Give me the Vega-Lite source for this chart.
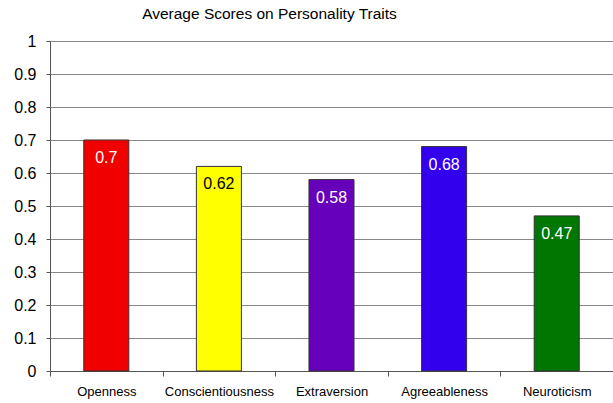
{
  "$schema": "https://vega.github.io/schema/vega-lite/v6.json",
  "width": 563,
  "height": 330,
  "autosize": {"type": "none"},
  "padding": {"left": 50, "top": 41, "right": 0, "bottom": 32},
  "background": "white",
  "title": {
    "text": "Average Scores on Personality Traits",
    "font": "Liberation Sans",
    "fontSize": 15.5,
    "fontWeight": "normal",
    "color": "black",
    "anchor": "middle",
    "dx": -62,
    "offset": 11
  },
  "config": {
    "view": {"stroke": null},
    "font": "Liberation Sans"
  },
  "data": {
    "values": [
      {"trait": "Openness", "score": 0.7},
      {"trait": "Conscientiousness", "score": 0.62},
      {"trait": "Extraversion", "score": 0.58},
      {"trait": "Agreeableness", "score": 0.68},
      {"trait": "Neuroticism", "score": 0.47}
    ]
  },
  "encoding": {
    "x": {
      "field": "trait",
      "type": "nominal",
      "sort": null,
      "scale": {"paddingInner": 0, "paddingOuter": 0},
      "axis": {
        "title": null,
        "labelAngle": 0,
        "labelFont": "Liberation Sans",
        "labelFontSize": 13,
        "labelColor": "black",
        "labelPadding": 9,
        "tickBand": "extent",
        "tickSize": 5,
        "tickColor": "#555",
        "domainColor": "#555",
        "grid": false
      }
    },
    "y": {
      "field": "score",
      "type": "quantitative",
      "scale": {"domain": [0, 1], "nice": false},
      "axis": {
        "title": null,
        "values": [0, 0.1, 0.2, 0.3, 0.4, 0.5, 0.6, 0.7, 0.8, 0.9, 1],
        "format": "~g",
        "labelFont": "Liberation Sans",
        "labelFontSize": 16,
        "labelColor": "black",
        "labelPadding": 10,
        "tickSize": 4,
        "tickColor": "#555",
        "domainColor": "#555",
        "grid": true,
        "gridColor": "#888",
        "gridOpacity": 1,
        "gridWidth": 1
      }
    }
  },
  "layer": [
    {
      "mark": {"type": "bar", "width": {"band": 0.4}, "stroke": "#333", "strokeWidth": 1},
      "encoding": {
        "fill": {
          "field": "trait",
          "type": "nominal",
          "scale": {
            "domain": ["Openness", "Conscientiousness", "Extraversion", "Agreeableness", "Neuroticism"],
            "range": ["#f00000", "#ffff00", "#6600bb", "#3300ee", "#007700"]
          },
          "legend": null
        }
      }
    },
    {
      "mark": {"type": "text", "baseline": "middle", "align": "center", "dy": 18, "fontSize": 16, "font": "Liberation Sans"},
      "encoding": {
        "text": {"field": "score", "type": "quantitative"},
        "color": {
          "condition": {"test": "datum.trait === 'Conscientiousness'", "value": "black"},
          "value": "white"
        }
      }
    }
  ]
}
